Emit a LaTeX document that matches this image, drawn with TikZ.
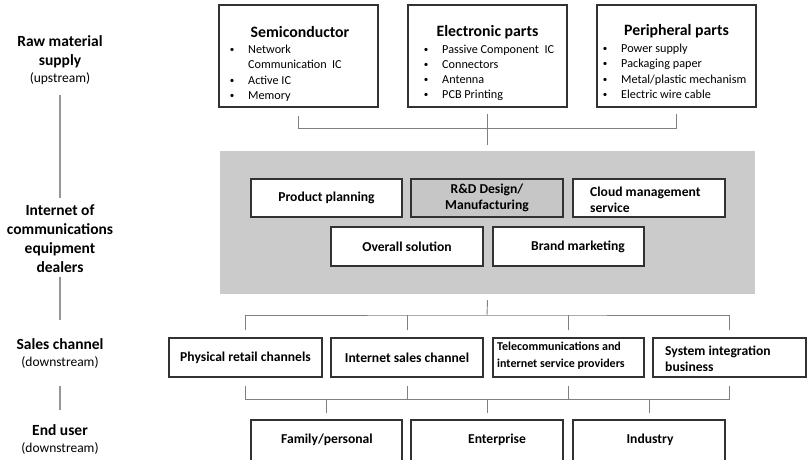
\documentclass[tikz,border=0pt]{standalone}
\usepackage{fontspec}
\setmainfont{Carlito}
\definecolor{gbg}{RGB}{203,203,203}
\definecolor{rdg}{RGB}{198,198,198}
\definecolor{bord}{RGB}{50,50,50}
\definecolor{cn}{RGB}{128,128,128}
\definecolor{sd}{RGB}{150,150,150}
\begin{document}
\begin{tikzpicture}[x=1pt,y=-1pt,
  box/.style={draw=bord, line width=1.5pt, fill=white, inner sep=0pt},
  conn/.style={draw=cn, line width=0.9pt},
  side/.style={draw=sd, line width=1.2pt},
  ttl/.style={font=\fontsize{15.8}{18}\selectfont\bfseries, inner sep=0pt},
  itm/.style={font=\fontsize{12.2}{15}\selectfont, inner sep=0pt, anchor=base west},
  bul/.style={font=\fontsize{9}{12}\selectfont, inner sep=0pt, anchor=base},
  lbl/.style={font=\fontsize{15.5}{19}\selectfont\bfseries, inner sep=0pt, align=center},
  sub/.style={font=\fontsize{13.5}{16}\selectfont, inner sep=0pt},
  bt/.style={font=\fontsize{13.6}{16}\selectfont\bfseries},
  bts/.style={font=\fontsize{12}{17}\selectfont\bfseries, inner sep=0pt, align=left, anchor=west},
  btl/.style={font=\fontsize{13.6}{16}\selectfont\bfseries, inner sep=0pt, align=left, anchor=west}
]
\useasboundingbox (0,0) rectangle (808,459);
\clip (0,0) rectangle (808,459);

% ---------- left labels ----------
\node[lbl] (l1) at (60,51.5) {Raw material\\supply};
\node[sub] (l1s) at (60,79) {(upstream)};
\node[lbl] (l2) at (60,238.5) {Internet of\\communications\\equipment\\dealers};
\node[lbl] (l3) at (60,344) {Sales channel};
\node[sub] (l3s) at (60,362) {(downstream)};
\node[lbl] (l4) at (60,430) {End user};
\node[sub] (l4s) at (60,448) {(downstream)};
\draw[side] ([yshift=-10pt]l1s.south) -- ([yshift=6pt]l2.north);
\draw[side] ([yshift=-4pt]l2.south) -- ([yshift=18pt]l3.north);
\draw[side] ([yshift=-18pt]l3s.south) -- ([yshift=14pt]l4.north);

% ---------- raw material boxes ----------
\node[box, minimum width=159pt, minimum height=102pt] (semi) at (298.5,56) {};
\node[box, minimum width=159pt, minimum height=102pt] (elec) at (487.5,56) {};
\node[box, minimum width=159pt, minimum height=102pt] (peri) at (676.5,56) {};

\node[ttl] (semit) at (300,32) {Semiconductor};
\node[ttl] (elect) at (487.5,32) {Electronic parts};
\node[ttl] (perit) at (676.5,31) {Peripheral parts};

\node[bul] (sb1) at (232,52) {\textbullet};
\node[itm] (si1) at (248,53) {Network};
\node[itm] (si2) at (248,68) {Communication\ \ IC};
\node[bul] (sb3) at (232,83) {\textbullet};
\node[itm] (si3) at (248,84) {Active IC};
\node[bul] (sb4) at (232,98) {\textbullet};
\node[itm] (si4) at (248,99) {Memory};

\node[bul] (eb1) at (426,52) {\textbullet};
\node[itm] (ei1) at (442,53) {Passive Component\ \ IC};
\node[bul] (eb2) at (426,67) {\textbullet};
\node[itm] (ei2) at (442,68) {Connectors};
\node[bul] (eb3) at (426,82.5) {\textbullet};
\node[itm] (ei3) at (442,83.5) {Antenna};
\node[bul] (eb4) at (426,97.5) {\textbullet};
\node[itm] (ei4) at (442,98.5) {PCB Printing};

\node[bul] (pb1) at (605,51) {\textbullet};
\node[itm] (pi1) at (621,52) {Power supply};
\node[bul] (pb2) at (605,66) {\textbullet};
\node[itm] (pi2) at (621,67) {Packaging paper};
\node[bul] (pb3) at (605,82) {\textbullet};
\node[itm] (pi3) at (621,83) {Metal/plastic mechanism};
\node[bul] (pb4) at (605,97) {\textbullet};
\node[itm] (pi4) at (621,98) {Electric wire cable};

% ---------- dealer block ----------
\node[fill=gbg, minimum width=535pt, minimum height=143pt, inner sep=0pt] (mid) at (487.5,222.5) {};
\node[box, bt, minimum width=151pt, minimum height=38pt] (pp) at (326.5,198) {Product planning};
\node[box, bt, fill=rdg, align=center, minimum width=152pt, minimum height=38pt] (rd) at (487,198) {R\&D Design/\\Manufacturing};
\node[box, minimum width=152pt, minimum height=38pt] (cloud) at (649,198) {};
\node[btl] (cloudt) at (590,200) {Cloud management\\service};
\node[box, bt, minimum width=152pt, minimum height=39pt] (overall) at (407,246.5) {Overall solution};
\node[box, minimum width=151pt, minimum height=39pt] (brand) at (568.5,246.5) {};
\node[bt, inner sep=0pt] (brandt) at (578,246.5) {Brand marketing};

% ---------- sales channels ----------
\node[box, bt, minimum width=153pt, minimum height=39pt] (phys) at (245.5,357.5) {Physical retail channels};
\node[box, bt, minimum width=152pt, minimum height=39pt] (inet) at (407,357.5) {Internet sales channel};
\node[box, minimum width=151pt, minimum height=39pt] (tele) at (568.5,357.5) {};
\node[bts] (telet) at (497,356) {Telecommunications and\\internet service providers};
\node[box, minimum width=153pt, minimum height=39pt] (sys) at (729.5,357.5) {};
\node[btl] (syst) at (665,359) {System integration\\business};

% ---------- end users ----------
\node[box, minimum width=151pt, minimum height=44pt] (fam) at (326.5,442) {};
\node[bt, inner sep=0pt] (famt) at (327,440) {Family/personal};
\node[box, minimum width=152pt, minimum height=44pt] (ent) at (487,442) {};
\node[bt, inner sep=0pt] (entt) at (497,440) {Enterprise};
\node[box, minimum width=152pt, minimum height=44pt] (ind) at (649,442) {};
\node[bt, inner sep=0pt] (indt) at (650,440) {Industry};

% ---------- connectors ----------
\draw[conn] ([yshift=-8pt]semi.south) -- ++(0,13) -| ([yshift=-6pt]peri.south);
\draw[conn] ([yshift=-6pt]elec.south) -- ([yshift=6pt]mid.north);

\coordinate (bus2) at (487,315);
\draw[conn] ([yshift=-6pt]mid.south) -- (bus2);
\draw[conn] ([yshift=7pt]phys.north) |- (bus2) -| ([yshift=7pt]sys.north);
\draw[conn] ([yshift=7pt]inet.north) -- (inet.north |- bus2);
\draw[conn] ([yshift=7pt]tele.north) -- (tele.north |- bus2);

\coordinate (bus3) at (487,399);
\draw[conn] ([yshift=-8pt]phys.south) |- (bus3) -| ([yshift=-8pt]sys.south);
\draw[conn] ([yshift=-8pt]inet.south) -- (inet.south |- bus3);
\draw[conn] ([yshift=-8pt]tele.south) -- (tele.south |- bus3);
\draw[conn] (fam.north |- bus3) -- ([yshift=6pt]fam.north);
\draw[conn] (bus3) -- ([yshift=6pt]ent.north);
\draw[conn] (ind.north |- bus3) -- ([yshift=6pt]ind.north);
\end{tikzpicture}
\end{document}
